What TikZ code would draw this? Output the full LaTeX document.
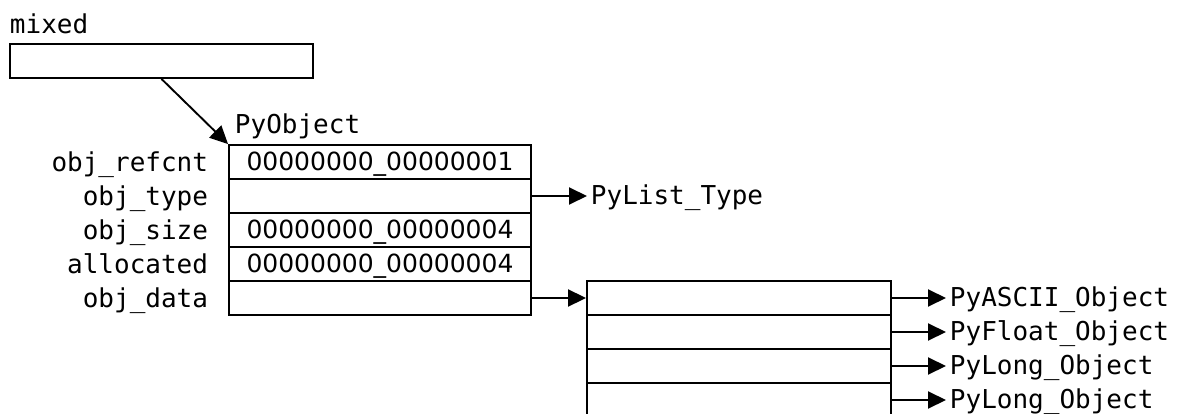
\documentclass[tikz,border=0pt]{standalone}
\usepackage{fontspec}
\usetikzlibrary{arrows.meta}
\newfontfamily\monof{DejaVu Sans Mono}
\newfontfamily\numf{DejaVu Sans}
\begin{document}
\begin{tikzpicture}[x=1pt,y=-1pt,
  line width=1.9pt,
  cell/.style={draw, rectangle, inner sep=0pt, minimum width=302pt, minimum height=34pt,
    font=\numf\fontsize{25}{28}\selectfont, text height=17pt, text depth=0pt},
  lcell/.style={cell, minimum width=304pt},
  lbl/.style={inner sep=0pt, font=\monof\fontsize{26}{30}\selectfont, text height=21pt, text depth=4pt},
  ptr/.style={-{Triangle[length=18pt,width=17pt]}}]
  \clip (0,0) rectangle (1185,414);
  % the variable and its slot
  \node[lbl, anchor=base west] (mixedlbl) at (9,34) {mixed};
  \node[cell, minimum width=303pt] (mixed) at (161.5,61) {};
  % the list object header
  \node[lbl, anchor=base west] (pyobj) at (234,134) {PyObject};
  \node[cell] (refcnt) at (380,162) {00000000\_00000001};
  \node[cell] (type)   at (380,196) {};
  \node[cell] (size)   at (380,230) {00000000\_00000004};
  \node[cell] (alloc)  at (380,264) {00000000\_00000004};
  \node[cell] (data)   at (380,298) {};
  % field names
  \node[lbl, anchor=east] (lrefcnt) at (209,162.6) {obj\_refcnt};
  \node[lbl, anchor=east] (ltype)   at (209,196.6) {obj\_type};
  \node[lbl, anchor=east] (lsize)   at (209,230.6) {obj\_size};
  \node[lbl, anchor=east] (lalloc)  at (209,264.6) {allocated};
  \node[lbl, anchor=east] (ldata)   at (209,298.6) {obj\_data};
  % the item array
  \node[lcell] (i0) at (739,298) {};
  \node[lcell] (i1) at (739,332) {};
  \node[lcell] (i2) at (739,366) {};
  \node[lcell] (i3) at (739,400) {};
  \node[lcell] (i4) at (739,434) {};
  % targets
  \node[lbl, anchor=west, inner xsep=3pt] (tlist) at (587,196) {PyList\_Type};
  \node[lbl, anchor=west, inner xsep=3pt] (t0) at (946,298) {PyASCII\_Object};
  \node[lbl, anchor=west, inner xsep=3pt] (t1) at (946,332) {PyFloat\_Object};
  \node[lbl, anchor=west, inner xsep=3pt] (t2) at (946,366) {PyLong\_Object};
  \node[lbl, anchor=west, inner xsep=3pt] (t3) at (946,400) {PyLong\_Object};
  % pointers
  \draw[ptr] (mixed.south) -- (refcnt.north west);
  \draw[ptr] (type.east) -- (tlist.west);
  \draw[ptr] (data.east) -- (i0.west);
  \draw[ptr] (i0.east) -- (t0.west);
  \draw[ptr] (i1.east) -- (t1.west);
  \draw[ptr] (i2.east) -- (t2.west);
  \draw[ptr] (i3.east) -- (t3.west);
\end{tikzpicture}
\end{document}
